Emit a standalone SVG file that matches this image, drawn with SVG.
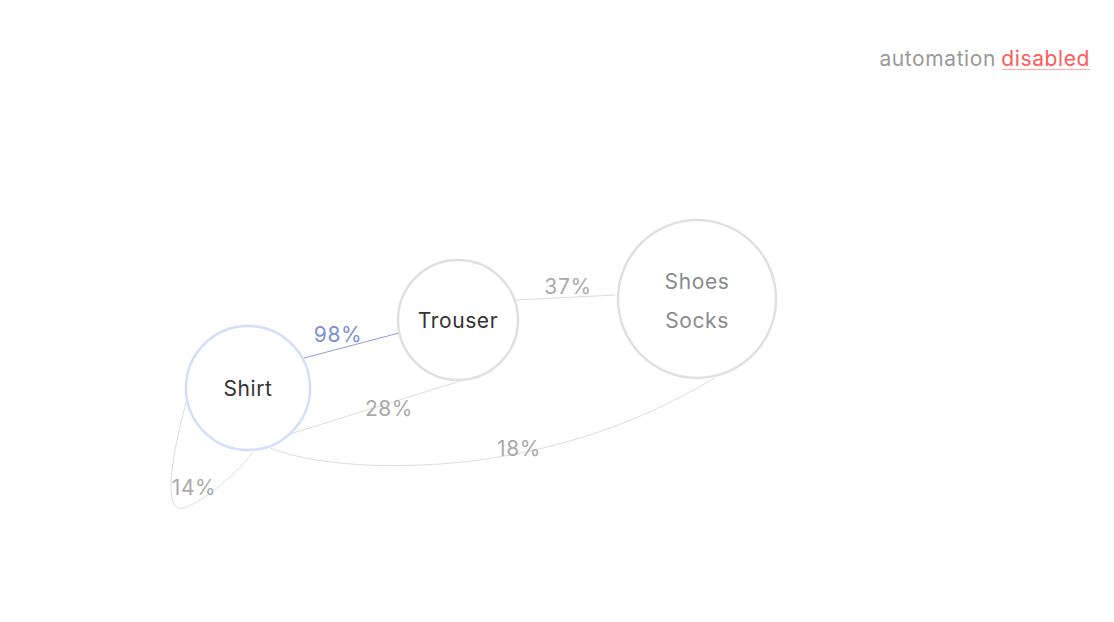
<svg xmlns="http://www.w3.org/2000/svg" width="1114" height="622" viewBox="0 0 1114 622">
<style>
text{font-family:Inter,"Noto Sans","Liberation Sans",sans-serif;font-size:21px;letter-spacing:0.6px;}
.node{fill:#fff;stroke:#e0e0e0;stroke-width:2.5;}
.nl{fill:#333;text-anchor:middle;}
.edge{fill:none;stroke:#dcdcdc;stroke-width:1;}
.el{fill:#aaa;text-anchor:middle;}
</style>
<rect width="1114" height="622" fill="#fff"/>
<g id="connectors">
<path class="edge" d="M186,403 C168,470 165,512 183,508 C205,502 240,470 253,452"/>
<text class="el" x="194" y="495">14%</text>
<path class="edge" d="M270,448 C320,468 420,472 510,455 S660,410 715,378"/>
<text class="el" x="519" y="456">18%</text>
<line class="edge" x1="290" y1="434" x2="470" y2="378"/>
<text class="el" x="389" y="416">28%</text>
<line class="edge" x1="516" y1="300" x2="615" y2="295"/>
<text class="el" x="568" y="294">37%</text>
<line x1="304" y1="358" x2="399" y2="333" stroke="#8e9ae6" stroke-width="1"/>
<text x="338" y="342" fill="#7b8fd6" text-anchor="middle">98%</text>
</g>
<g id="node-shirt">
<circle cx="248" cy="388" r="62" fill="#fff" stroke="#d3defc" stroke-width="2.5"/>
<text class="nl" x="248" y="396">Shirt</text>
</g>
<g id="node-trouser">
<circle class="node" cx="458" cy="320" r="60"/>
<text class="nl" x="458" y="328">Trouser</text>
</g>
<g id="node-shoes-socks">
<circle class="node" cx="697" cy="299" r="79"/>
<text x="697" y="289" fill="#8a8a8a" text-anchor="middle">Shoes</text>
<text x="697" y="328" fill="#8a8a8a" text-anchor="middle">Socks</text>
</g>
<g id="status">
<text x="996" y="66" text-anchor="end" fill="#999">automation</text>
<text x="1090" y="66" text-anchor="end" fill="#ff5a5a">disabled</text>
<line x1="1002" y1="69.5" x2="1090" y2="69.5" stroke="#ffaaaa" stroke-width="1"/>
</g>
</svg>
